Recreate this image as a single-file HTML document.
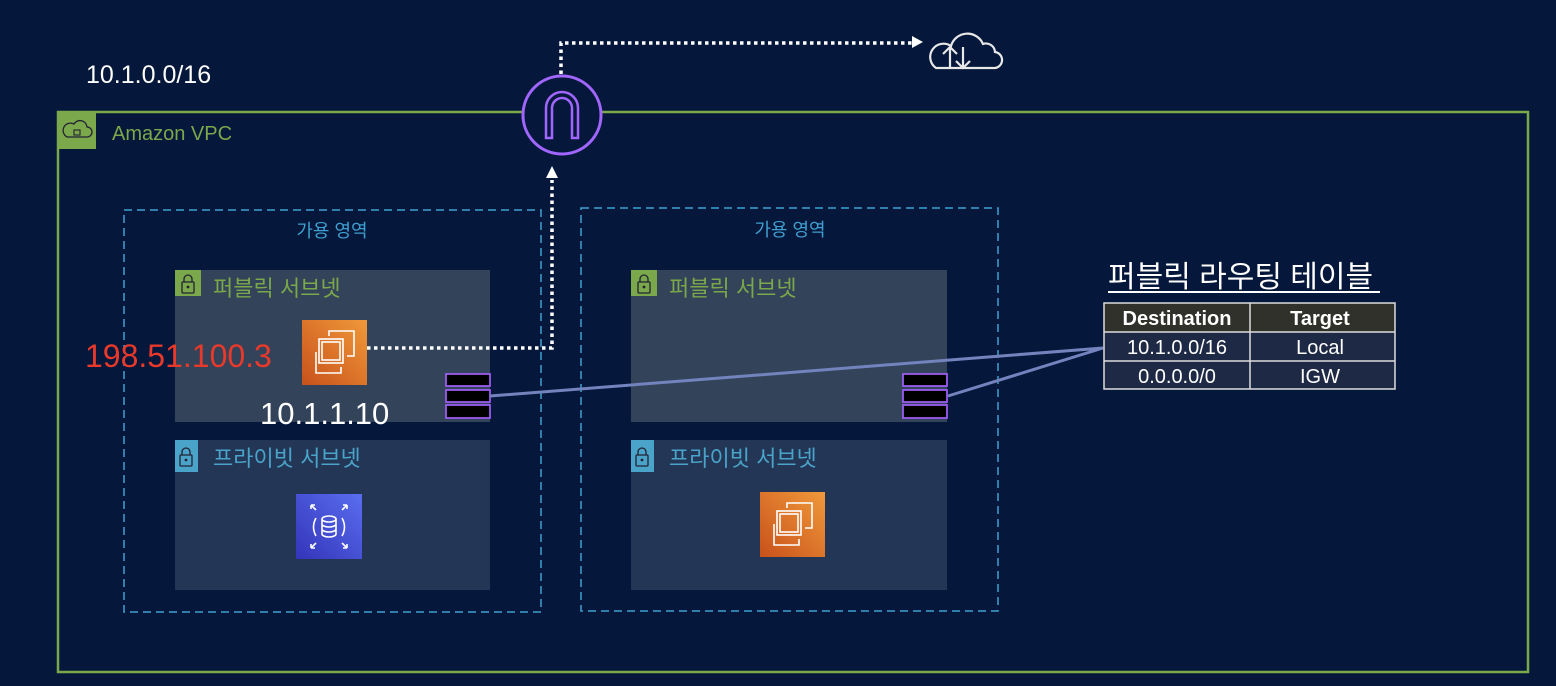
<!DOCTYPE html>
<html><head><meta charset="utf-8"><style>
html,body{margin:0;padding:0;background:#05173a;}
svg{display:block}
text{font-family:"Liberation Sans","Noto Sans CJK KR",sans-serif;}
</style></head><body>
<svg width="1556" height="686" viewBox="0 0 1556 686" xmlns="http://www.w3.org/2000/svg">
<defs>
<linearGradient id="og" x1="0" y1="1" x2="1" y2="0"><stop offset="0" stop-color="#c8511b"/><stop offset="1" stop-color="#f0993a"/></linearGradient>
<linearGradient id="bg" x1="0" y1="1" x2="1" y2="0"><stop offset="0" stop-color="#3334b9"/><stop offset="1" stop-color="#5a6ef0"/></linearGradient>
<g id="ec2"><rect width="65" height="65" fill="url(#og)"/>
<g fill="none" stroke="#fff" stroke-width="1.6"><rect x="17" y="19" width="24" height="24"/><path d="M27 16 V11 H52 V36 H45"/><path d="M14 32 V53 H39 V47"/><rect x="20" y="22" width="18" height="18"/></g></g>
<g id="lock"><rect x="-6" y="-2" width="12" height="11" rx="1" fill="none" stroke="#223" stroke-width="1.3"/><path d="M-4 -2 V-5 a4 4 0 0 1 8 0 V-2" fill="none" stroke="#223" stroke-width="1.3"/><circle cx="0" cy="3" r="1.4" fill="#223"/></g>
</defs>
<text x="86" y="83" fill="#fff" font-size="25">10.1.0.0/16</text>
<!-- VPC -->
<rect x="58" y="112" width="1470" height="560" fill="none" stroke="#7aa84a" stroke-width="2.5"/>
<rect x="58" y="111" width="38" height="38" fill="#7aa84a"/>
<path d="M67 137 h20 a5 5 0 0 0 0-10 a7 7 0 0 0-13-3 a5 5 0 0 0-7 13z" fill="none" stroke="#223" stroke-width="1.3"/>
<rect x="74" y="130" width="6" height="5" fill="none" stroke="#223" stroke-width="1.1"/>
<text x="112" y="140" fill="#7aa84a" font-size="20">Amazon VPC</text>
<!-- AZs -->
<rect x="124" y="210" width="417" height="402" fill="none" stroke="#3ea0d0" stroke-width="1.5" stroke-dasharray="8,5"/>
<rect x="581" y="208" width="417" height="403" fill="none" stroke="#3ea0d0" stroke-width="1.5" stroke-dasharray="8,5"/>
<text x="332" y="237" fill="#3ea0d0" font-size="18" text-anchor="middle">가용 영역</text>
<text x="790" y="236" fill="#3ea0d0" font-size="18" text-anchor="middle">가용 영역</text>
<!-- subnets -->
<rect x="175" y="270" width="315" height="152" fill="#334359"/>
<rect x="631" y="270" width="316" height="152" fill="#334359"/>
<rect x="175" y="440" width="315" height="150" fill="#233656"/>
<rect x="631" y="440" width="316" height="150" fill="#233656"/>
<rect x="175" y="270" width="26" height="26" fill="#7aa84a"/><use href="#lock" x="188" y="284"/>
<rect x="631" y="270" width="26" height="26" fill="#7aa84a"/><use href="#lock" x="644" y="284"/>
<rect x="175" y="440" width="23" height="32" fill="#4aa3c8"/><use href="#lock" x="186" y="457"/>
<rect x="631" y="440" width="23" height="32" fill="#4aa3c8"/><use href="#lock" x="642" y="457"/>
<text x="213" y="296" fill="#7aa84a" font-size="22">퍼블릭 서브넷</text>
<text x="669" y="296" fill="#7aa84a" font-size="22">퍼블릭 서브넷</text>
<text x="213" y="466" fill="#4aa3c8" font-size="22">프라이빗 서브넷</text>
<text x="669" y="466" fill="#4aa3c8" font-size="22">프라이빗 서브넷</text>
<!-- icons -->
<use href="#ec2" x="302" y="320"/>
<use href="#ec2" x="760" y="492"/>
<rect x="296" y="494" width="66" height="65" fill="url(#bg)"/>
<g fill="none" stroke="#fff" stroke-width="1.6"><ellipse cx="329" cy="519" rx="7" ry="3"/><path d="M322 519 v15 a7 3 0 0 0 14 0 v-15 M322 524 a7 3 0 0 0 14 0 M322 529 a7 3 0 0 0 14 0"/><path d="M316 518 q-5 9 0 18 M342 518 q5 9 0 18"/><path d="M311 505 l5 5 M311 505 h4 M311 505 v4 M347 505 l-5 5 M347 505 h-4 M347 505 v4 M311 548 l5-5 M311 548 h4 M311 548 v-4 M347 548 l-5-5 M347 548 h-4 M347 548 v-4"/></g>
<text x="85" y="367" fill="#e8392b" font-size="32">198.51.100.3</text>
<text x="260" y="424" fill="#fff" font-size="31">10.1.1.10</text>
<!-- ENIs -->
<g fill="#000" stroke="#9a5cf0" stroke-width="1.8">
<rect x="446" y="374" width="44" height="12"/><rect x="446" y="390" width="44" height="12"/><rect x="446" y="405" width="44" height="13"/>
<rect x="903" y="374" width="44" height="12"/><rect x="903" y="390" width="44" height="12"/><rect x="903" y="405" width="44" height="13"/>
</g>
<path d="M490 396 L1103 348 L948 396" fill="none" stroke="#7283bd" stroke-width="3"/>
<!-- dotted paths -->
<path d="M367 348 H552 V180" fill="none" stroke="#fff" stroke-width="3.5" stroke-dasharray="3.5,3.5"/>
<path d="M552 166 l-6 12 h12z" fill="#fff"/>
<path d="M561 88 V43 H915" fill="none" stroke="#fff" stroke-width="3.5" stroke-dasharray="3.5,3.5"/>
<path d="M923 42 l-11 -6 v12z" fill="#fff"/>
<!-- IGW -->
<circle cx="562" cy="115" r="39" fill="#05173a" stroke="#a166ff" stroke-width="3"/>
<path d="M546 138 V108 a16 16 0 0 1 32 0 V138 h-6 V108 a10 10 0 0 0-20 0 V138z" fill="none" stroke="#a166ff" stroke-width="2.5"/>
<!-- cloud -->
<g fill="none" stroke="#e8e8e8" stroke-width="2.2">
<path d="M936 68 h57 a8 8 0 0 0 2-16 a9 9 0 0 0-12-8 a17 17 0 0 0-32 2 a11 11 0 0 0-15 22z"/>
<path d="M950 68 V47 M943 54 l7-7 7 7 M963 47 V68 M956 61 l7 7 7-7"/>
</g>
<!-- route table -->
<text x="1108" y="287" fill="#fff" font-size="30">퍼블릭 라우팅 테이블</text>
<line x1="1108" y1="292" x2="1380" y2="292" stroke="#fff" stroke-width="2"/>
<rect x="1104" y="303" width="291" height="29" fill="#2f312a"/>
<rect x="1104" y="332" width="291" height="57" fill="#1e2a45"/>
<g stroke="#ddd" stroke-width="1.5" fill="none"><rect x="1104" y="303" width="291" height="86"/><line x1="1104" y1="332" x2="1395" y2="332"/><line x1="1104" y1="361" x2="1395" y2="361"/><line x1="1250" y1="303" x2="1250" y2="389"/></g>
<g fill="#fff" font-size="20" text-anchor="middle">
<text x="1177" y="325" font-weight="bold">Destination</text><text x="1320" y="325" font-weight="bold">Target</text>
<text x="1177" y="354">10.1.0.0/16</text><text x="1320" y="354">Local</text>
<text x="1177" y="383">0.0.0.0/0</text><text x="1320" y="383">IGW</text>
</g>
</svg>
</body></html>
